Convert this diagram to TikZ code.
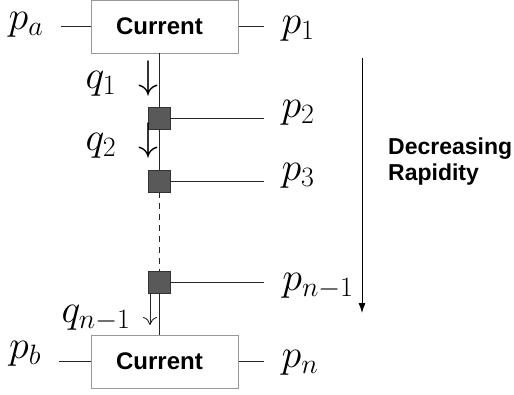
\RequirePackage{fix-cm}
\documentclass[tikz,border=0pt]{standalone}
\usepackage{fontspec}
\setsansfont{Liberation Sans}
\usetikzlibrary{arrows.meta,positioning}

\begin{document}
\begin{tikzpicture}[
      x=1pt, y=-1pt,
      box/.style={draw=black!40, minimum width=147pt, minimum height=53pt, inner sep=0pt,
      font=\sffamily\bfseries\fontsize{24}{27}\selectfont},
      vertex/.style={draw=black!80, fill=black!65, minimum size=22pt, inner sep=0pt},
      lbl/.style={inner sep=0pt, outer xsep=18pt, font=\fontsize{40}{44}\selectfont},
      leg/.style={line width=0.9pt, black!85},
      flow/.style={-{Latex[length=10pt,width=7pt]}, line width=0.9pt}
    ]
    \useasboundingbox (0,0) rectangle (514,394);
    \node[box] (top) at (165,26.5) {\hspace*{-11pt}Current};
    \node[box] (bottom) at (165,361.5) {\hspace*{-11pt}Current};
    \node[vertex] (v1) at (159,118) {};
    \node[vertex] (v2) at (159,181) {};
    \node[vertex] (v3) at (159,282) {};
    % momenta
    \node[lbl, anchor=base] (pa) at (26,29) {$p_a$};
    \node[lbl, anchor=base] (p1) at (298,33) {$p_1$};
    \node[lbl, anchor=base] (p2) at (298,117) {$p_2$};
    \node[lbl, anchor=base] (p3) at (298,180) {$p_3$};
    \node[lbl, anchor=base] (pn1) at (318,290) {$p_{n-1}$};
    \node[lbl, anchor=base] (pb) at (25,358) {$p_b$};
    \node[lbl, anchor=base] (pn) at (300,367) {$p_n$};
    \node[lbl, anchor=base] (q1) at (122,88) {$q_1\;\downarrow$};
    \node[lbl, anchor=base] (q2) at (122,150) {$q_2\;\downarrow$};
    \node[lbl, anchor=base] (qn1) at (96,322) {$q_{n-1}$};
    \node[inner sep=0pt, anchor=north west, align=left,
      font=\sffamily\bfseries\fontsize{23}{26}\selectfont] (rapidity) at (388,138)
      {Decreasing\\Rapidity};
    % ladder
    \draw[leg] (v1.north |- top.south) -- (v1.north);
    \draw[leg] (v1.south) -- (v2.north);
    \draw[leg, dash pattern=on 6pt off 5pt] (v2.south) -- (v3.north);
    \draw[leg] (v3.south) -- (v3.south |- bottom.north);
    \draw[leg] (top.west) -- (top.west -| pa.east);
    \draw[leg] (top.east) -- (top.east -| p1.west);
    \draw[leg] (bottom.west) -- (bottom.west -| pb.east);
    \draw[leg] (bottom.east) -- (bottom.east -| pn.west);
    \draw[leg] (v1.east) -- (v1.east -| p2.west);
    \draw[leg] (v2.east) -- (v2.east -| p3.west);
    \draw[leg] (v3.east) -- (v3.east -| pn1.west);
    \coordinate (qtip) at (150,325);
    \draw[leg, -{To[length=8pt,width=14pt]}] (v3.south -| qtip) -- (qtip);
    \coordinate (rstart) at (362,58);
    \coordinate (rend) at (362,313);
    \draw[flow] (rstart) -- (rend);
  \end{tikzpicture}
\end{document}
